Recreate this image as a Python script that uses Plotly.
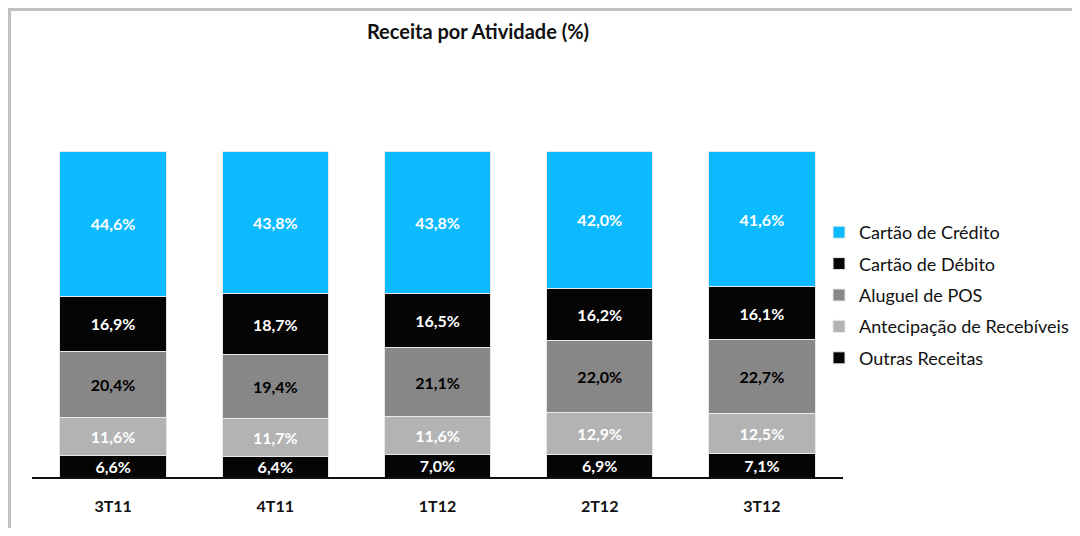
import plotly.graph_objects as go

categories = ["3T11", "4T11", "1T12", "2T12", "3T12"]
series_names = ["Outras Receitas", "Antecipação de Recebíveis", "Aluguel de POS", "Cartão de Débito", "Cartão de Crédito"]
outras = [6.6, 6.4, 7.0, 6.9, 7.1]
antecipacao = [11.6, 11.7, 11.6, 12.9, 12.5]
aluguel = [20.4, 19.4, 21.1, 22.0, 22.7]
debito = [16.9, 18.7, 16.5, 16.2, 16.1]
credito = [44.6, 43.8, 43.8, 42.0, 41.6]

series_values = [outras, antecipacao, aluguel, debito, credito]
colors = ["#050505", "#B3B3B3", "#878787", "#050505", "#0BBAFF"]
text_colors = ["white", "white", "black", "white", "white"]
legend_ranks = [5, 4, 3, 2, 1]

# page has an 8px body margin; figure coordinates = page coordinates - 8
OFF = 8
W, H = 1080 - 2 * OFF, 536 - 2 * OFF
def fx(p):
    return p - OFF
L = fx(32)
R = W - fx(843)
T = fx(151)
B = H - fx(477)
pw, ph = W - L - R, H - T - B

def px_x(p):
    return (fx(p) - L) / pw

def px_y(p):
    return (H - B - fx(p)) / ph

FONT = "Lato, Carlito, 'Open Sans', sans-serif"

fig = go.Figure()
for name, vals, c, tc, rk in zip(series_names, series_values, colors, text_colors, legend_ranks):
    fig.add_trace(go.Bar(
        x=categories, y=vals, name=name, legendgroup=name, legendrank=rk,
        marker=dict(color=c, line=dict(color="#E8E8E8", width=1)),
        text=[f"{v:.1f}%".replace(".", ",") for v in vals],
        textposition="inside", insidetextanchor="middle", textangle=0,
        constraintext="none",
        textfont=dict(family=FONT, size=16, color=tc, weight="bold"),
        hoverinfo="skip",
    ))

fig.update_layout(
    width=W, height=H,
    margin=dict(l=L, r=R, t=T, b=B, autoexpand=False),
    barmode="stack", bargap=0.345,
    paper_bgcolor="white", plot_bgcolor="white",
    title=dict(text="<b>Receita por Atividade (%)</b>", x=fx(478) / W, xanchor="center",
               y=1 - fx(32) / H, yanchor="middle", yref="container",
               font=dict(family=FONT, size=20, color="#111")),
    xaxis=dict(showgrid=False, zeroline=False, showline=True, linecolor="#111", linewidth=1.5,
               ticks="", ticklabelstandoff=14,
               tickfont=dict(family=FONT, size=16, color="#111", weight="bold")),
    yaxis=dict(range=[0, 100.1], visible=False),
    legend=dict(x=px_x(819), xanchor="left", y=px_y(214), yanchor="top",
                traceorder="grouped", tracegroupgap=5,
                font=dict(family=FONT, size=18, color="#111"),
                itemwidth=30, bgcolor="rgba(0,0,0,0)"),
    showlegend=True,
    shapes=[
        dict(type="rect", xref="paper", yref="paper",
             x0=px_x(9.5), x1=px_x(1100), y0=px_y(9.5), y1=px_y(560),
             line=dict(color="#C0C0C0", width=3), fillcolor="rgba(0,0,0,0)", layer="below"),
    ],
)

fig.write_html("out.html")
